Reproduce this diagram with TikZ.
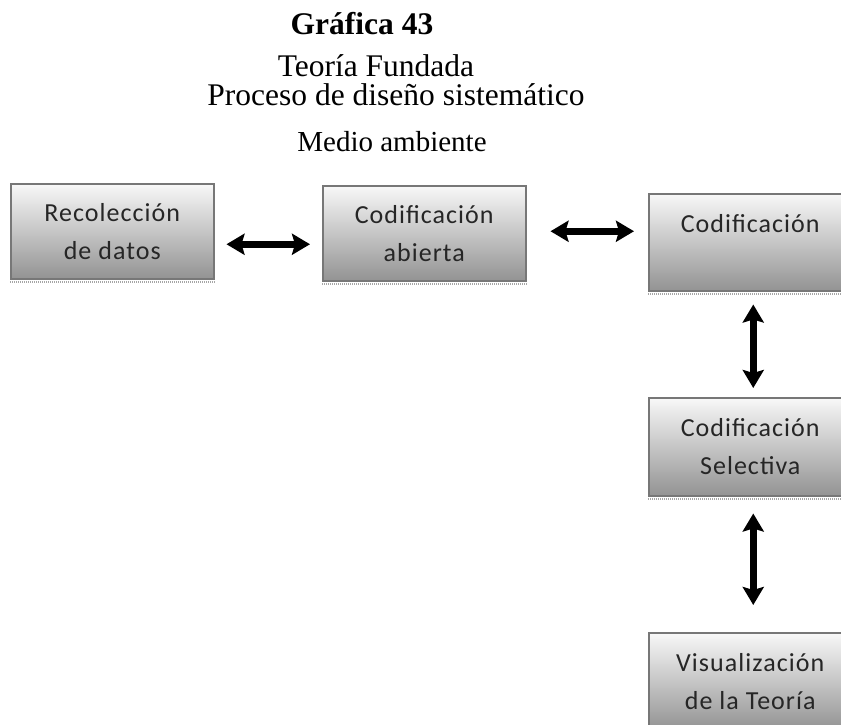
\documentclass[tikz,border=0pt]{standalone}
\usepackage{fontspec}
\setmainfont{Liberation Serif}
\newfontfamily\boxfont[LetterSpace=4]{Carlito}
\usepackage{tikz}
\usetikzlibrary{arrows.meta}

\definecolor{boxtop}{HTML}{F8F8F8}
\definecolor{boxbot}{HTML}{939393}
\definecolor{boxline}{HTML}{777777}

\begin{document}
\begin{tikzpicture}[x=1pt,y=-1pt,
  paso/.style={draw=boxline, line width=1.5pt, top color=boxtop, bottom color=boxbot,
    minimum width=203pt, minimum height=95pt, anchor=north west, inner sep=0pt,
    align=center, font=\boxfont\fontsize{26}{38}\selectfont, text=black!85},
  sombra/.style={draw=gray!70, line width=2pt, dash pattern=on 1pt off 1pt},
  dbl/.style={line width=7.5pt, {Stealth[length=18pt,width=21pt,inset=3pt]}-{Stealth[length=18pt,width=21pt,inset=3pt]}}]
  \useasboundingbox (0,0) rectangle (841,725);
  \clip (0,0) rectangle (841,725);
  % titulos
  \node[anchor=base, font=\bfseries\fontsize{31.5}{36}\selectfont] (graf) at (362,35) {Gráfica 43};
  \node[anchor=base, font=\fontsize{31.5}{36}\selectfont] (teo) at (376,77) {Teoría Fundada};
  \node[anchor=base, font=\fontsize{31.5}{36}\selectfont] (proc) at (396,106) {Proceso de diseño sistemático};
  \node[anchor=base, font=\fontsize{29}{34}\selectfont] (medio) at (392,151) {Medio ambiente};
  % cajas
  \node[paso] (rec) at (10,183) {Recolección\\de datos};
  \node[paso] (abi) at (322,185) {Codificación\\abierta};
  \node[paso, minimum height=97pt] (cod) at (648,193) {Codificación\\\mbox{}};
  \node[paso, minimum height=98pt] (sel) at (648,397) {Codificación\\Selectiva};
  \node[paso, minimum height=97pt] (vis) at (648,632) {Visualización\\de la Teoría};
  \foreach \b in {rec,abi,cod,sel}
    \draw[sombra] ([yshift=-2.5pt]\b.south west) -- ([yshift=-2.5pt]\b.south east);
  % flechas
  \draw[dbl] ([xshift=12pt,yshift=-13pt]rec.east) -- ([xshift=-12pt,yshift=-13pt]rec.east -| abi.west);
  \draw[dbl] ([xshift=24pt,yshift=2pt]abi.east) -- ([xshift=-14pt,yshift=2pt]abi.east -| cod.west);
  \draw[dbl] ([xshift=3pt,yshift=-13pt]cod.south) -- ([xshift=3pt,yshift=9pt]sel.north);
  \draw[dbl] ([xshift=3pt,yshift=-17pt]sel.south) -- ([xshift=3pt,yshift=27pt]vis.north);
\end{tikzpicture}
\end{document}
